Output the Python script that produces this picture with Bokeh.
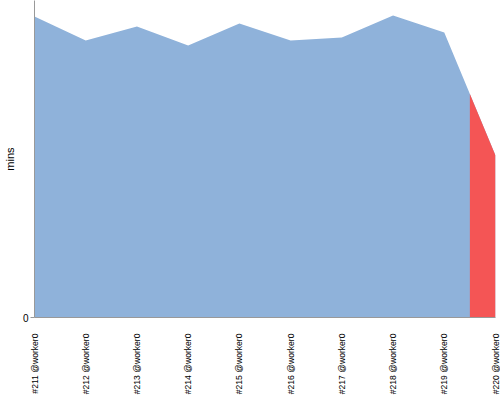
from bokeh.plotting import figure
from bokeh.models import FixedTicker, Range1d
from bokeh.embed import file_html
from bokeh.resources import INLINE

builds = ["#211 @worker0", "#212 @worker0", "#213 @worker0", "#214 @worker0",
          "#215 @worker0", "#216 @worker0", "#217 @worker0", "#218 @worker0",
          "#219 @worker0", "#220 @worker0"]
durations = [30.1, 27.7, 29.1, 27.2, 29.4, 27.7, 28.0, 30.2, 28.5, 16.2]
y_max = 31.7

xs = list(range(len(builds)))

p = figure(frame_width=461, frame_height=317, output_backend="svg",
           toolbar_location=None, min_border_top=0, min_border_right=6,
           min_border_left=0, x_range=Range1d(0, len(builds) - 1),
           y_range=Range1d(0, y_max))
p.outline_line_color = None
p.grid.visible = False

p.varea(x=xs, y1=[0] * len(xs), y2=durations, fill_color="#8fb2da")
last = len(builds) - 1
mid_x = last - 0.5
mid_y = (durations[last - 1] + durations[last]) / 2
p.varea(x=[mid_x, last], y1=[0, 0], y2=[mid_y, durations[last]],
        fill_color="#f45555")

xa = p.xaxis[0]
xa.ticker = FixedTicker(ticks=xs)
xa.major_label_overrides = {i: b for i, b in enumerate(builds)}
xa.major_label_orientation = 1.5707963
xa.major_tick_line_color = None
xa.minor_tick_line_color = None
xa.major_tick_out = 0
xa.major_label_standoff = 16
xa.axis_line_color = "#999999"
xa.major_label_text_font = "Liberation Sans"
xa.major_label_text_font_size = "8.6px"
xa.major_label_text_color = "#000000"

ya = p.yaxis[0]
ya.ticker = FixedTicker(ticks=[0])
ya.minor_tick_line_color = None
ya.major_tick_out = 4
ya.major_tick_in = 0
ya.major_tick_line_color = "#999999"
ya.axis_line_color = "#999999"
ya.major_label_standoff = 2
ya.major_label_text_font = "Liberation Sans"
ya.major_label_text_font_size = "10px"
ya.major_label_text_color = "#000000"
ya.axis_label = "mins"
ya.axis_label_standoff = 4
ya.axis_label_text_font = "Liberation Sans"
ya.axis_label_text_font_size = "11px"
ya.axis_label_text_font_style = "normal"
ya.axis_label_text_color = "#000000"

open("out.html", "w").write(file_html(p, INLINE))
